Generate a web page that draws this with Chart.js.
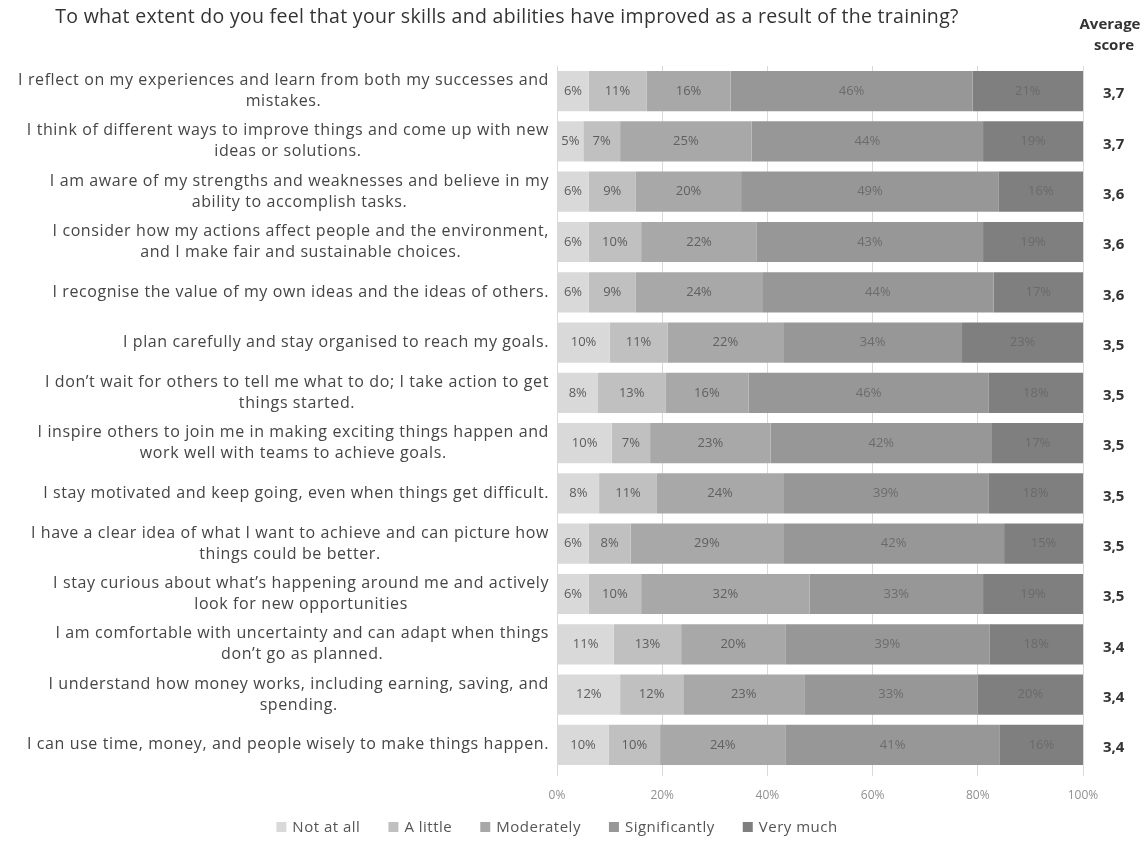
<!DOCTYPE html>
<html>
<head>
<meta charset="utf-8">
<script src="https://cdn.jsdelivr.net/npm/chart.js@4"></script>
<style>
  html, body { margin: 0; padding: 0; background: #fff; }
  #wrap { width: 1146px; height: 861px; position: relative; }
</style>
</head>
<body>
<div id="wrap"><canvas id="skillsChart"></canvas></div>
<script>
const titleText = 'To what extent do you feel that your skills and abilities have improved as a result of the training?';

const categories = [
  ['I reflect on my experiences and learn from both my successes and', 'mistakes.'],
  ['I think of different ways to improve things and come up with new', 'ideas or solutions.'],
  ['I am aware of my strengths and weaknesses and believe in my', 'ability to accomplish tasks.'],
  ['I consider how my actions affect people and the environment,', 'and I make fair and sustainable choices.'],
  ['I recognise the value of my own ideas and the ideas of others.'],
  ['I plan carefully and stay organised to reach my goals.'],
  ['I don\u2019t wait for others to tell me what to do; I take action to get', 'things started.'],
  ['I inspire others to join me in making exciting things happen and', 'work well with teams to achieve goals.'],
  ['I stay motivated and keep going, even when things get difficult.'],
  ['I have a clear idea of what I want to achieve and can picture how', 'things could be better.'],
  ['I stay curious about what\u2019s happening around me and actively', 'look for new opportunities'],
  ['I am comfortable with uncertainty and can adapt when things', 'don\u2019t go as planned.'],
  ['I understand how money works, including earning, saving, and', 'spending.'],
  ['I can use time, money, and people wisely to make things happen.']
];

// shares in %, shown rounded
const notAtAll      = [6, 5, 6, 6, 6, 10, 7.8, 10.4, 8, 6, 6, 10.8, 12, 9.8];
const aLittle       = [11, 7, 9, 10, 9, 11, 12.8, 7.3, 11, 8, 10, 12.8, 12, 9.8];
const moderately    = [16, 25, 20, 22, 24, 22, 15.8, 22.9, 24, 29, 32, 19.8, 23, 23.8];
const significantly = [46, 44, 49, 43, 44, 34, 45.7, 42.1, 39, 42, 33, 38.8, 33, 40.8];
const veryMuch      = [21, 19, 16, 19, 17, 23, 17.9, 17.3, 18, 15, 19, 17.8, 20, 15.8];

const averageScores = ['3,7', '3,7', '3,6', '3,6', '3,6', '3,5', '3,5', '3,5', '3,5', '3,5', '3,5', '3,4', '3,4', '3,4'];

const seriesNames = ['Not at all', 'A little', 'Moderately', 'Significantly', 'Very much'];
const seriesColors = ['#d9d9d9', '#c0c0c0', '#a8a8a8', '#979797', '#7f7f7f'];
const labelColors = ['#5c5c5c', '#5c5c5c', '#606060', '#6c6c6c', '#6a6a6a'];
const seriesData = [notAtAll, aLittle, moderately, significantly, veryMuch];

const xTicks = [0, 20, 40, 60, 80, 100];

const FONT = '"Open Sans", "DejaVu Sans", sans-serif';

const extrasPlugin = {
  id: 'extras',
  afterDatasetsDraw(chart) {
    const ctx = chart.ctx;
    const x = chart.scales.x;
    ctx.save();
    ctx.font = '13px ' + FONT;
    ctx.textAlign = 'center';
    ctx.textBaseline = 'middle';
    chart.data.datasets.forEach((ds, di) => {
      ctx.fillStyle = labelColors[di];
      chart.getDatasetMeta(di).data.forEach((bar, i) => {
        const left = Math.min(bar.x, bar.base);
        const right = Math.min(Math.max(bar.x, bar.base), x.right);
        ctx.fillText(Math.round(ds.data[i]) + '%', (left + right) / 2, bar.y);
      });
    });
    ctx.restore();
  },
  afterDraw(chart) {
    const ctx = chart.ctx;
    const y = chart.scales.y;
    ctx.save();
    ctx.textAlign = 'center';
    ctx.textBaseline = 'middle';

    // title
    ctx.font = '19.5px ' + FONT;
    ctx.letterSpacing = '0.3px';
    ctx.fillStyle = '#333';
    ctx.fillText(titleText, 507, 17);
    ctx.letterSpacing = '0px';

    // average score header
    ctx.font = 'bold 15px ' + FONT;
    ctx.fillStyle = '#333';
    ctx.fillText('Average', 1110, 25);
    ctx.fillText('score', 1114, 46);

    // category labels: lines centred, block right-aligned
    ctx.font = '16px ' + FONT;
    ctx.letterSpacing = '0.6px';
    ctx.fillStyle = '#454545';
    const lineH = 21;
    categories.forEach((lines, i) => {
      const cy = y.getPixelForValue(i);
      const w = Math.max(...lines.map(l => ctx.measureText(l).width));
      const cx = 549 - w / 2;
      const y0 = cy - (lines.length - 1) * lineH / 2;
      lines.forEach((l, k) => ctx.fillText(l, cx, y0 + k * lineH));
    });
    ctx.letterSpacing = '0px';

    // average scores
    ctx.font = 'bold 15px ' + FONT;
    ctx.fillStyle = '#333';
    ctx.textAlign = 'left';
    averageScores.forEach((s, i) => {
      ctx.fillText(s, 1103, y.getPixelForValue(i) + 3);
    });

    // legend
    ctx.font = '15px ' + FONT;
    ctx.letterSpacing = '0.5px';
    const box = 10, gap = 6, space = 28, ly = 827;
    const widths = seriesNames.map(n => box + gap + ctx.measureText(n).width);
    const total = widths.reduce((a, b) => a + b, 0) + space * (widths.length - 1);
    let lx = 557 - total / 2;
    seriesNames.forEach((n, i) => {
      ctx.fillStyle = seriesColors[i];
      ctx.fillRect(lx, ly - box / 2, box, box);
      ctx.fillStyle = '#555';
      ctx.fillText(n, lx + box + gap, ly + 1);
      lx += widths[i] + space;
    });
    ctx.restore();
  }
};

const ctx = document.getElementById('skillsChart').getContext('2d');
new Chart(ctx, {
  type: 'bar',
  data: {
    labels: categories.map(c => c.join(' ')),
    datasets: seriesNames.map((name, i) => ({
      label: name,
      data: seriesData[i],
      backgroundColor: seriesColors[i],
      borderWidth: 0,
      barPercentage: 0.8,
      categoryPercentage: 1.0
    }))
  },
  options: {
    indexAxis: 'y',
    responsive: true,
    maintainAspectRatio: false,
    animation: false,
    layout: {
      padding: { top: 66, right: 63, bottom: 41, left: 0 }
    },
    scales: {
      x: {
        stacked: true,
        min: 0,
        max: 100,
        afterBuildTicks: (scale) => { scale.ticks = xTicks.map(v => ({ value: v })); },
        afterFit: (scale) => { scale.height = 50; },
        grid: { color: '#d9d9d9', tickLength: 6 },
        border: { display: false },
        ticks: {
          padding: 12,
          color: '#909090',
          font: { family: FONT, size: 12 },
          callback: (v) => v + '%'
        }
      },
      y: {
        stacked: true,
        grid: { display: false },
        border: { display: false },
        ticks: { display: false },
        afterFit: (scale) => { scale.width = 557; }
      }
    },
    plugins: {
      legend: { display: false },
      tooltip: { enabled: false }
    }
  },
  plugins: [extrasPlugin]
});
</script>
</body>
</html>
